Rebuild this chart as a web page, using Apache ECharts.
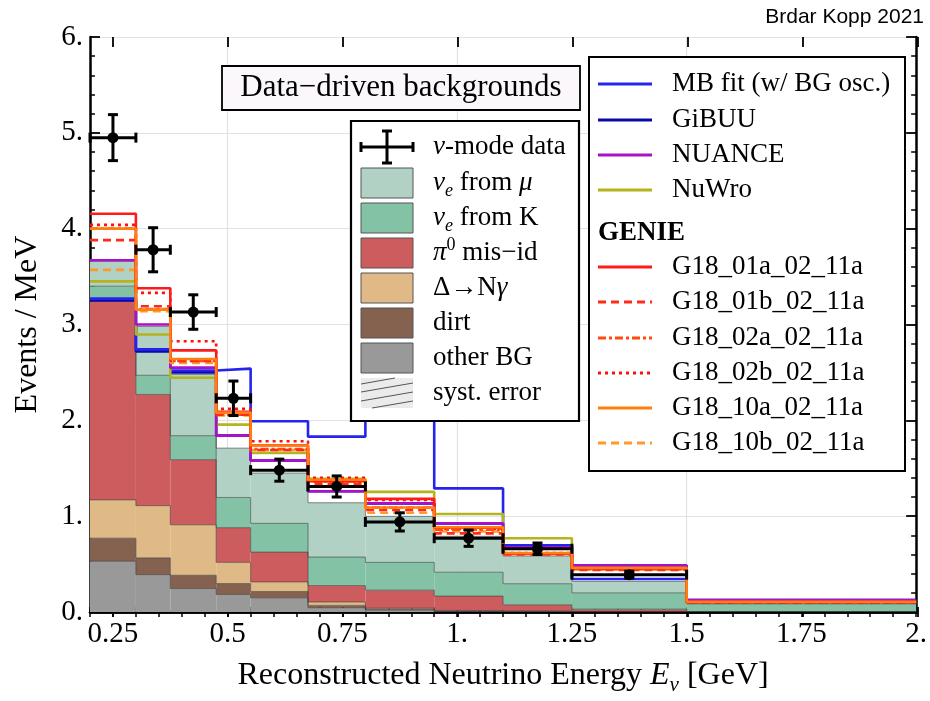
<!DOCTYPE html>
<html><head><meta charset="utf-8">
<script src="https://cdn.jsdelivr.net/npm/echarts@6/dist/echarts.min.js"></script>
<style>html,body{margin:0;padding:0;background:#fff}#c{width:930px;height:701px}</style>
</head><body><div id="c"></div>
<script>
// ---------------- data ----------------
const binEdges = [0.2, 0.3, 0.375, 0.475, 0.55, 0.675, 0.8, 0.95, 1.1, 1.25, 1.5, 2.0];
const xTickValues = [0.25, 0.5, 0.75, 1, 1.25, 1.5, 1.75, 2];
const xGridValues = [0.5, 1, 1.5];
const yTickValues = [0, 1, 2, 3, 4, 5, 6];

// stacked backgrounds (per component, Events/MeV), bottom to top
const otherBG     = [0.53, 0.39, 0.245, 0.183, 0.148, 0.045, 0.02, 0.005, 0.003, 0.002, 0.001];
const dirt        = [0.24, 0.175, 0.138, 0.114, 0.066, 0.024, 0.01, 0.005, 0.003, 0.002, 0.001];
const deltaNgamma = [0.40, 0.545, 0.527, 0.221, 0.10, 0.035, 0.01, 0.005, 0.004, 0.002, 0.001];
const pi0misid    = [2.07, 1.16, 0.68, 0.362, 0.311, 0.172, 0.188, 0.151, 0.065, 0.024, 0.002];
const nueFromK    = [0.16, 0.20, 0.25, 0.315, 0.30, 0.297, 0.29, 0.249, 0.22, 0.17, 0.08];
const nueFromMu   = [0.26, 0.51, 0.64, 0.515, 0.525, 0.567, 0.48, 0.375, 0.29, 0.12, 0.015];

// neutrino-mode data
const dataValues = [4.95, 3.78, 3.13, 2.23, 1.48, 1.31, 0.94, 0.77, 0.66, 0.39];
const dataErrors = [0.24, 0.23, 0.18, 0.18, 0.115, 0.11, 0.095, 0.085, 0.06, 0.035];

// predictions (step lines)
const mbFit     = [3.27, 2.74, 2.52, 2.54, 1.99, 1.83, 2.25, 1.29, 0.695, 0.345, 0.10];
const giBUU     = [3.25, 2.72, 2.50, 1.84, 1.58, 1.26, 1.133, 0.925, 0.674, 0.484, 0.124];
const nuance    = [3.67, 3.00, 2.55, 1.84, 1.58, 1.26, 1.133, 0.925, 0.674, 0.484, 0.124];
const nuWro     = [3.45, 2.895, 2.445, 1.955, 1.66, 1.39, 1.254, 1.023, 0.77, 0.475, 0.115];
const g18_01a   = [4.155, 3.378, 2.73, 2.09, 1.74, 1.37, 1.18, 0.88, 0.61, 0.455, 0.105];
const g18_01b   = [3.88, 3.19, 2.62, 2.06, 1.69, 1.34, 1.064, 0.82, 0.60, 0.44, 0.10];
const g18_02a   = [4.0, 3.16, 2.62, 2.06, 1.70, 1.36, 1.09, 0.86, 0.61, 0.45, 0.10];
const g18_02b   = [4.04, 3.33, 2.826, 2.12, 1.782, 1.40, 1.17, 0.87, 0.615, 0.45, 0.105];
const g18_10a   = [4.0, 3.155, 2.64, 2.08, 1.738, 1.38, 1.09, 0.884, 0.615, 0.46, 0.107];
const g18_10b   = [3.57, 3.14, 2.60, 2.05, 1.69, 1.36, 1.036, 0.84, 0.605, 0.445, 0.10];

// ---------------- styling ----------------
const serif = "'Liberation Serif','Times New Roman',serif";
const stacks = [
  {name: 'other BG', vals: otherBG, color: '#999999'},
  {name: 'dirt', vals: dirt, color: '#85614f'},
  {name: 'Δ→Nγ', vals: deltaNgamma, color: '#dfb986'},
  {name: 'π0 mis-id', vals: pi0misid, color: '#cc5c5e'},
  {name: 'νe from K', vals: nueFromK, color: '#83c2a5'},
  {name: 'νe from μ', vals: nueFromMu, color: '#b1d1c5'}
];
const lines = [
  {name: 'GiBUU', vals: giBUU, color: '#0a0aa8', dash: 'solid'},
  {name: 'MB fit (w/ BG osc.)', vals: mbFit, color: '#2424ee', dash: 'solid'},
  {name: 'NuWro', vals: nuWro, color: '#b4b41e', dash: 'solid'},
  {name: 'NUANCE', vals: nuance, color: '#aa10c8', dash: 'solid'},
  {name: 'G18_10b_02_11a', vals: g18_10b, color: '#ff9a2a', dash: [8, 5]},
  {name: 'G18_02b_02_11a', vals: g18_02b, color: '#ff1010', dash: [3, 4]},
  {name: 'G18_02a_02_11a', vals: g18_02a, color: '#ff4a10', dash: [8, 3, 3, 3]},
  {name: 'G18_01b_02_11a', vals: g18_01b, color: '#ff2a1a', dash: [8, 5]},
  {name: 'G18_01a_02_11a', vals: g18_01a, color: '#ff1a1a', dash: 'solid'},
  {name: 'G18_10a_02_11a', vals: g18_10a, color: '#ff8010', dash: 'solid'}
];

const series = [];
// vertical grid lines (beneath everything)
series.push({
  type: 'line', name: 'grid', xAxisIndex: 0, yAxisIndex: 0, z: 0, silent: true, showSymbol: false, symbol: 'none',
  lineStyle: {opacity: 0}, data: [[0.2, 0]],
  markLine: {z: 0, silent: true, symbol: 'none', animation: false, label: {show: false},
    lineStyle: {color: '#e2e2e2', width: 1.2, type: 'solid'}, data: xGridValues.map(v => ({xAxis: v}))}
});
// stacked histogram (filled rects + step outline on top)
const cum = binEdges.slice(0, -1).map(() => 0);
stacks.forEach((s) => {
  const rows = s.vals.map((v, i) => {
    const r = [binEdges[i], binEdges[i + 1], cum[i], cum[i] + v];
    cum[i] += v;
    return r;
  });
  rows.forEach((r, i) => r.push(i + 1 < rows.length ? rows[i + 1][3] : r[3]));
  series.push({
    type: 'custom', name: s.name, xAxisIndex: 0, yAxisIndex: 0, z: 3, clip: true,
    data: rows,
    renderItem: (params, api) => {
      const p0 = api.coord([api.value(0), api.value(2)]);
      const p1 = api.coord([api.value(1), api.value(3)]);
      const pn = api.coord([api.value(1), api.value(4)]);
      const ol = {stroke: 'rgba(60,60,60,0.6)', lineWidth: 1};
      return {type: 'group', children: [
        {type: 'rect', shape: {x: p0[0], y: p1[1], width: p1[0] - p0[0], height: p0[1] - p1[1]}, style: {fill: s.color}},
        {type: 'line', z2: 5, shape: {x1: p0[0], y1: p1[1], x2: p1[0], y2: p1[1]}, style: ol},
        {type: 'line', z2: 5, shape: {x1: p1[0], y1: p1[1], x2: p1[0], y2: pn[1]}, style: ol}
      ]};
    }
  });
});
// step lines
lines.forEach((l, k) => {
  series.push({
    type: 'line', name: l.name, xAxisIndex: 0, yAxisIndex: 0, step: 'end', showSymbol: false, symbol: 'none',
    z: 5 + k * 0.01, silent: true, animation: false,
    lineStyle: {color: l.color, width: 2.6, type: l.dash},
    data: binEdges.map((e, i) => [e, l.vals[Math.min(i, l.vals.length - 1)]])
  });
});
// data with error bars
series.push({
  type: 'custom', name: 'ν-mode data', xAxisIndex: 0, yAxisIndex: 0, z: 8,
  data: dataValues.map((v, i) => [binEdges[i], binEdges[i + 1], v, dataErrors[i]]),
  renderItem: (params, api) => {
    const xl = api.value(0), xr = api.value(1), y = api.value(2), e = api.value(3), xc = (xl + xr) / 2;
    const pL = api.coord([xl, y]), pR = api.coord([xr, y]), pT = api.coord([xc, y + e]), pB = api.coord([xc, y - e]);
    const c = 5, st = {stroke: '#000', lineWidth: 3};
    const L = (a, b, c2, d) => ({type: 'line', shape: {x1: a, y1: b, x2: c2, y2: d}, style: st});
    return {type: 'group', children: [
      L(pL[0], pL[1], pR[0], pR[1]), L(pT[0], pT[1], pB[0], pB[1]),
      L(pL[0], pL[1] - c, pL[0], pL[1] + c), L(pR[0], pR[1] - c, pR[0], pR[1] + c),
      L(pT[0] - c, pT[1], pT[0] + c, pT[1]), L(pB[0] - c, pB[1], pB[0] + c, pB[1]),
      {type: 'circle', shape: {cx: pT[0], cy: pL[1], r: 5.5}, style: {fill: '#000'}}
    ]};
  }
});

// ---------------- legends (graphic) ----------------
const G = [];
const txtBase = {fontFamily: serif, fontSize: 27, fill: '#000', verticalAlign: 'middle', align: 'left', lineHeight: 34};
const rich = {
  i: {fontStyle: 'italic', fontFamily: serif, fontSize: 27, lineHeight: 34, verticalAlign: 'middle'},
  s: {fontStyle: 'italic', fontFamily: serif, fontSize: 18, lineHeight: 18, verticalAlign: 'bottom'},
  p: {fontFamily: serif, fontSize: 18, lineHeight: 18, verticalAlign: 'top'}
};
// box A
G.push({type: 'rect', z: 100, shape: {x: 222, y: 66, width: 358, height: 44}, style: {fill: '#fcf7fb', stroke: '#000', lineWidth: 1.8}});
G.push({type: 'text', z: 101, x: 401, y: 88, style: {text: 'Data−driven backgrounds', fontFamily: serif, fontSize: 31, fill: '#000', align: 'center', verticalAlign: 'middle'}});
// box B
G.push({type: 'rect', z: 100, shape: {x: 351, y: 121, width: 228, height: 300}, style: {fill: '#fff', stroke: '#000', lineWidth: 2.2}});
const bRows = [147, 183, 218, 253, 288, 323, 358, 393];
const bLabels = ['{i|ν}-mode data', '{i|ν}{s|e} from {i|μ}', '{i|ν}{s|e} from K', '{i|π}{p|0} mis−id', 'Δ→N{i|γ}', 'dirt', 'other BG', 'syst. error'];
const bColors = [null, stacks[5].color, stacks[4].color, stacks[3].color, stacks[2].color, stacks[1].color, stacks[0].color, 'hatch'];
bRows.forEach((y, k) => {
  const col = bColors[k];
  if (col === null) {
    const st = {stroke: '#000', lineWidth: 3};
    [[361, y, 413, y], [387, y - 16, 387, y + 16], [361, y - 5, 361, y + 5], [413, y - 5, 413, y + 5], [382, y - 16, 392, y - 16], [382, y + 16, 392, y + 16]]
      .forEach(s => G.push({type: 'line', z: 101, shape: {x1: s[0], y1: s[1], x2: s[2], y2: s[3]}, style: st}));
  } else if (col === 'hatch') {
    G.push({type: 'rect', z: 101, shape: {x: 361, y: y - 15, width: 52, height: 30}, style: {fill: '#ebebeb'}});
    [[361, y - 9, 395, y - 15], [361, y - 1, 413, y - 10], [361, y + 8, 413, y - 1], [372, y + 15, 413, y + 8]]
      .forEach(s => G.push({type: 'line', z: 102, shape: {x1: s[0], y1: s[1], x2: s[2], y2: s[3]}, style: {stroke: '#555', lineWidth: 1}}));
  } else {
    G.push({type: 'rect', z: 101, shape: {x: 361, y: y - 15, width: 52, height: 30}, style: {fill: col, stroke: '#555', lineWidth: 1}});
  }
  G.push({type: 'text', z: 101, x: 433, y: y, style: Object.assign({text: bLabels[k], rich: rich}, txtBase)});
});
// box C
G.push({type: 'rect', z: 100, shape: {x: 589, y: 57, width: 316, height: 414}, style: {fill: '#fff', stroke: '#000', lineWidth: 2}});
const cOrder = ['MB fit (w/ BG osc.)', 'GiBUU', 'NUANCE', 'NuWro', null, 'G18_01a_02_11a', 'G18_01b_02_11a', 'G18_02a_02_11a', 'G18_02b_02_11a', 'G18_10a_02_11a', 'G18_10b_02_11a'];
const cRows = [84, 120, 155, 190, 233, 267, 302, 338, 373, 408, 443];
cOrder.forEach((nm, k) => {
  const y = cRows[k];
  if (nm === null) {
    G.push({type: 'text', z: 101, x: 598, y: y, style: Object.assign({}, txtBase, {text: 'GENIE', fontWeight: 'bold'})});
    return;
  }
  const l = lines.find(q => q.name === nm);
  G.push({type: 'line', z: 101, shape: {x1: 598, y1: y, x2: 652, y2: y},
    style: {stroke: l.color, lineWidth: 3, lineDash: l.dash === 'solid' ? null : l.dash}});
  G.push({type: 'text', z: 101, x: 672, y: y, style: Object.assign({text: nm}, txtBase)});
});
// credit
G.push({type: 'text', z: 101, right: 6, top: 7, style: {text: 'Brdar Kopp 2021', fontFamily: "'Liberation Sans Narrow','Liberation Sans',sans-serif", fontSize: 21, fill: '#000'}});

// ---------------- axes ----------------
const gridRect = {left: 90, top: 37, width: 828, height: 580};
const fmtNum = v => (Math.abs(v - Math.round(v)) < 1e-9 ? Math.round(v) + '.' : String(+v.toFixed(2)));
const frameLine = {show: true, lineStyle: {color: '#000', width: 2.5}};
const option = {
  animation: false,
  backgroundColor: '#fff',
  grid: [Object.assign({}, gridRect), Object.assign({}, gridRect)],
  xAxis: [
    {gridIndex: 0, type: 'value', position: 'bottom', min: 0.2, max: 2, interval: 0.05, axisLine: frameLine,
      axisTick: {inside: true, length: 5, lineStyle: {color: '#000', width: 1.5}},
      axisLabel: {customValues: xTickValues, formatter: fmtNum, fontFamily: serif, fontSize: 29, color: '#000', margin: 8},
      splitLine: {show: false},
      name: 'Reconstructed Neutrino Energy {i|E}{s|ν} [GeV]', nameLocation: 'middle', nameGap: 44,
      nameTextStyle: {fontFamily: serif, fontSize: 32, color: '#000', lineHeight: 40,
        rich: {i: {fontStyle: 'italic', fontFamily: serif, fontSize: 32, lineHeight: 40, verticalAlign: 'middle'},
               s: {fontStyle: 'italic', fontFamily: serif, fontSize: 21, lineHeight: 21, verticalAlign: 'bottom'}}}},
    {gridIndex: 0, type: 'value', position: 'top', min: 0.2, max: 2, interval: 0.05, axisLine: frameLine,
      axisTick: {inside: true, length: 5, lineStyle: {color: '#000', width: 1.5}}, axisLabel: {show: false}, splitLine: {show: false}},
    {gridIndex: 1, type: 'value', position: 'bottom', min: 0.2, max: 2, axisLine: {show: false},
      axisTick: {inside: true, length: 10, customValues: xTickValues, lineStyle: {color: '#000', width: 1.8}}, axisLabel: {show: false}, splitLine: {show: false}},
    {gridIndex: 1, type: 'value', position: 'top', min: 0.2, max: 2, axisLine: {show: false},
      axisTick: {inside: true, length: 10, customValues: xTickValues, lineStyle: {color: '#000', width: 1.8}}, axisLabel: {show: false}, splitLine: {show: false}}
  ],
  yAxis: [
    {gridIndex: 0, type: 'value', position: 'left', min: 0, max: 6, interval: 1, axisLine: frameLine,
      axisTick: {inside: true, length: 10, lineStyle: {color: '#000', width: 1.8}},
      minorTick: {show: true, splitNumber: 5, length: 5, lineStyle: {color: '#000', width: 1.5}},
      axisLabel: {customValues: yTickValues, formatter: fmtNum, fontFamily: serif, fontSize: 29, color: '#000', margin: 7},
      splitLine: {show: true, lineStyle: {color: '#e2e2e2', width: 1.2}},
      name: 'Events / MeV', nameLocation: 'middle', nameGap: 46, nameRotate: 90,
      nameTextStyle: {fontFamily: serif, fontSize: 32, color: '#000'}},
    {gridIndex: 0, type: 'value', position: 'right', min: 0, max: 6, interval: 1, axisLine: frameLine,
      axisTick: {inside: true, length: 10, lineStyle: {color: '#000', width: 1.8}},
      minorTick: {show: true, splitNumber: 5, length: 5, lineStyle: {color: '#000', width: 1.5}},
      axisLabel: {show: false}, splitLine: {show: false}},
    {gridIndex: 1, type: 'value', min: 0, max: 6, show: false}
  ],
  series: series,
  graphic: G
};
const chart = echarts.init(document.getElementById('c'), null, {renderer: 'canvas'});
chart.setOption(option);
</script></body></html>
